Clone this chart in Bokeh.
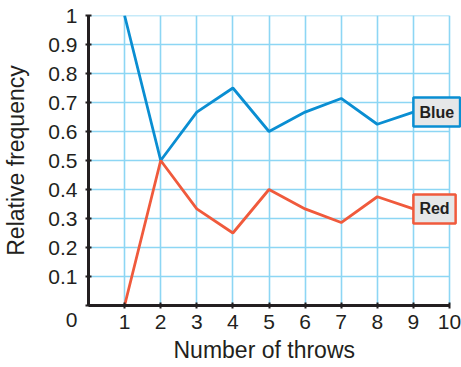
from bokeh.plotting import figure
from bokeh.models import Label, FixedTicker, Range1d, Title
from bokeh.embed import file_html
from bokeh.resources import INLINE

throws = [1, 2, 3, 4, 5, 6, 7, 8, 9]
blue_freq = [1.0, 0.5, 0.667, 0.75, 0.6, 0.667, 0.714, 0.625, 0.667]
red_freq = [0.0, 0.5, 0.333, 0.25, 0.4, 0.333, 0.286, 0.375, 0.333]
x_ticks = [1, 2, 3, 4, 5, 6, 7, 8, 9, 10]
y_ticks = [0, 0.1, 0.2, 0.3, 0.4, 0.5, 0.6, 0.7, 0.8, 0.9, 1.0]
grid_y = y_ticks[1:]

BLUE = "#0a8ed2"
RED = "#f05a3c"
GRID = "#8dd6f4"
INK = "#231f20"
FONT = "Liberation Sans"

x_max = x_ticks[-1]
p = figure(frame_width=373, frame_height=290,
           x_range=Range1d(0, x_max * 373 / 361), y_range=Range1d(0, 1),
           output_backend="svg", toolbar_location=None,
           min_border_left=87, min_border_top=15, min_border_right=0, min_border_bottom=61)
p.outline_line_color = None

p.xgrid.ticker = FixedTicker(ticks=x_ticks)
p.xgrid.grid_line_color = GRID
p.xgrid.grid_line_width = 1.6
p.ygrid.grid_line_color = None
p.segment(x0=0, x1=x_max, y0=grid_y, y1=grid_y, line_color=GRID, line_width=1.6)

p.xaxis.ticker = FixedTicker(ticks=x_ticks)
p.yaxis.ticker = FixedTicker(ticks=y_ticks)
p.xaxis.bounds = (0, x_max)
p.yaxis.major_label_overrides = {0: "\n0"}
for ax in (p.xaxis, p.yaxis):
    ax.axis_line_color = INK
    ax.axis_line_width = 3
    ax.major_tick_line_color = INK
    ax.major_tick_line_width = 2
    ax.major_tick_in = 3
    ax.major_tick_out = 3
    ax.minor_tick_line_color = None
    ax.major_label_text_font = FONT
    ax.major_label_text_font_size = "21px"
    ax.major_label_text_color = INK
    ax.axis_label_text_font = FONT
    ax.axis_label_text_font_size = "23px"
    ax.axis_label_text_font_style = "normal"
    ax.axis_label_text_color = INK

p.yaxis.axis_label = "Relative frequency"
p.xaxis.major_label_standoff = 6
p.yaxis.major_label_standoff = 8
p.yaxis.axis_label_standoff = 16

p.add_layout(Title(text="Number of throws", align="left", offset=85, standoff=7,
                   text_font=FONT, text_font_size="23px", text_font_style="normal",
                   text_color=INK), "below")

p.line(throws, blue_freq, line_color=BLUE, line_width=2.8)
p.line(throws, red_freq, line_color=RED, line_width=2.8)

for name, vals, col in (("Blue", blue_freq, BLUE), ("Red", red_freq, RED)):
    p.add_layout(Label(x=throws[-1], y=vals[-1], text=name,
                       text_align="left", text_baseline="middle",
                       text_font=FONT, text_font_size="16px", text_font_style="bold",
                       text_color=INK, background_fill_color="#e6e7e8",
                       border_line_color=col, border_line_width=2.5,
                       padding=6))

open("out.html", "w").write(file_html(p, INLINE))
